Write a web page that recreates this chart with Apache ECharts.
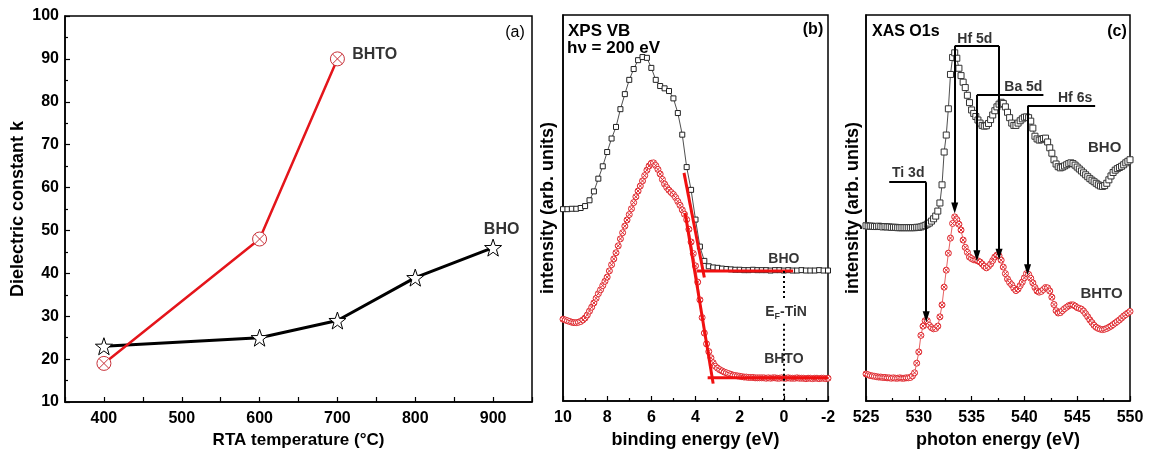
<!DOCTYPE html>
<html>
<head>
<meta charset="utf-8">
<script src="https://cdn.jsdelivr.net/npm/echarts@6/dist/echarts.min.js"></script>
<style>
  html, body { margin: 0; padding: 0; background: #fff; }
  #chart { width: 1152px; height: 450px; }
</style>
</head>
<body>
<div id="chart"></div>
<script>
// ---------- (a) dielectric constant vs. RTA temperature ----------
const tempBHTO = [400, 600, 700];
const kBHTO = [19, 48, 90];
const tempBHO = [400, 600, 700, 800, 900];
const kBHO = [23, 25, 29, 39, 46];

// ---------- (b) XPS valence band, binding energy (eV) ----------
const beCoarse = [10.0, 9.8, 9.6, 9.4, 9.2, 9.0, 8.8, 8.6, 8.4, 8.2,
  8.0, 7.8, 7.6, 7.4, 7.2, 7.0, 6.8, 6.6, 6.4, 6.2,
  6.0, 5.8, 5.6, 5.4, 5.2, 5.0, 4.8, 4.6, 4.4, 4.2,
  4.0, 3.8, 3.6, 3.4, 3.2, 3.0, 2.8, 2.6, 2.4, 2.2,
  2.0, 1.8, 1.6, 1.4, 1.2, 1.0, 0.8, 0.6, 0.4, 0.2,
  0.0, -0.2, -0.4, -0.6, -0.8, -1.0, -1.2, -1.4, -1.6, -1.8,
  -2.0];
const vbBHO = [49.7, 49.7, 49.8, 49.8, 50.0, 50.5, 52.0, 54.3, 57.6, 60.8,
  64.5, 68.0, 71.0, 75.6, 79.5, 83.2, 86.0, 88.3, 89.1, 88.9,
  86.3, 83.2, 81.6, 81.0, 80.3, 78.4, 74.6, 69.0, 60.6, 54.7,
  47.0, 40.0, 36.3, 34.9, 34.6, 34.5, 34.3, 34.2, 34.1, 34.0,
  34.0, 33.9, 33.9, 34.0, 33.9, 33.9, 33.9, 33.8, 33.9, 33.9,
  33.8, 33.9, 33.8, 33.8, 33.9, 33.8, 33.8, 33.8, 33.9, 33.8,
  33.8];
const beFine = [10.0, 9.9, 9.8, 9.7, 9.6, 9.5, 9.4, 9.3, 9.2, 9.1,
  9.0, 8.9, 8.8, 8.7, 8.6, 8.5, 8.4, 8.3, 8.2, 8.1,
  8.0, 7.9, 7.8, 7.7, 7.6, 7.5, 7.4, 7.3, 7.2, 7.1,
  7.0, 6.9, 6.8, 6.7, 6.6, 6.5, 6.4, 6.3, 6.2, 6.1,
  6.0, 5.9, 5.8, 5.7, 5.6, 5.5, 5.4, 5.3, 5.2, 5.1,
  5.0, 4.9, 4.8, 4.7, 4.6, 4.5, 4.4, 4.3, 4.2, 4.1,
  4.0, 3.9, 3.8, 3.7, 3.6, 3.5, 3.4, 3.3, 3.2, 3.1,
  3.0, 2.9, 2.8, 2.7, 2.6, 2.5, 2.4, 2.3, 2.2, 2.1,
  2.0, 1.9, 1.8, 1.7, 1.6, 1.5, 1.4, 1.3, 1.2, 1.1,
  1.0, 0.9, 0.8, 0.7, 0.6, 0.5, 0.4, 0.3, 0.2, 0.1,
  0.0, -0.1, -0.2, -0.3, -0.4, -0.5, -0.6, -0.7, -0.8, -0.9,
  -1.0, -1.1, -1.2, -1.3, -1.4, -1.5, -1.6, -1.7, -1.8, -1.9,
  -2.0];
const vbBHTO = [21.2, 21.0, 20.8, 20.6, 20.4, 20.3, 20.3, 20.4, 20.6, 21.0,
  21.5, 22.3, 23.3, 24.3, 25.4, 26.6, 27.8, 28.8, 29.9, 31.0,
  32.1, 33.7, 35.3, 36.8, 38.4, 40.2, 42.0, 43.6, 45.3, 46.9,
  48.3, 49.8, 51.4, 52.9, 54.4, 55.7, 57.0, 58.4, 59.8, 60.9,
  61.6, 61.7, 61.0, 60.0, 58.8, 57.4, 56.2, 55.3, 54.6, 54.0,
  53.5, 52.7, 51.7, 50.7, 49.5, 48.4, 47.0, 44.5, 41.2, 38.2,
  35.0, 30.8, 26.2, 21.6, 17.6, 14.8, 12.8, 11.2, 9.9, 9.0,
  8.5, 8.1, 7.8, 7.5, 7.3, 7.1, 6.9, 6.7, 6.6, 6.5,
  6.4, 6.3, 6.2, 6.2, 6.1, 6.1, 6.1, 6.0, 6.0, 6.0,
  6.0, 6.0, 5.9, 6.0, 5.9, 6.0, 6.0, 5.9, 5.9, 6.0,
  5.9, 5.9, 6.0, 5.9, 5.9, 5.9, 6.0, 5.9, 5.9, 5.9,
  5.8, 5.9, 5.9, 5.8, 5.9, 5.9, 5.8, 5.9, 5.9, 5.8,
  5.9];
// linear band-edge extrapolations (slope and baseline), [eV, intensity]
const edgeBHO = [[4.52, 59.1], [3.6, 32.0]];
const baseBHO = [[3.93, 33.7], [-0.42, 33.7]];
const edgeBHTO = [[4.47, 48.7], [3.2, 4.5]];
const baseBHTO = [[3.45, 6.0], [-2.0, 6.0]];
// Fermi level of TiN at 0 eV, drawn in two pieces around its label
const fermiSegments = [[[0, 33.7], [0, 26.4]], [[0, 20.0], [0, 0]]];

// ---------- (c) XAS O 1s, photon energy (eV) ----------
const photonE = [525.0, 525.2, 525.4, 525.6, 525.8, 526.0, 526.2, 526.4, 526.6, 526.8,
  527.0, 527.2, 527.4, 527.6, 527.8, 528.0, 528.2, 528.4, 528.6, 528.8,
  529.0, 529.2, 529.4, 529.6, 529.8, 530.0, 530.2, 530.4, 530.6, 530.8,
  531.0, 531.2, 531.4, 531.6, 531.8, 532.0, 532.2, 532.4, 532.6, 532.8,
  533.0, 533.2, 533.4, 533.6, 533.8, 534.0, 534.2, 534.4, 534.6, 534.8,
  535.0, 535.2, 535.4, 535.6, 535.8, 536.0, 536.2, 536.4, 536.6, 536.8,
  537.0, 537.2, 537.4, 537.6, 537.8, 538.0, 538.2, 538.4, 538.6, 538.8,
  539.0, 539.2, 539.4, 539.6, 539.8, 540.0, 540.2, 540.4, 540.6, 540.8,
  541.0, 541.2, 541.4, 541.6, 541.8, 542.0, 542.2, 542.4, 542.6, 542.8,
  543.0, 543.2, 543.4, 543.6, 543.8, 544.0, 544.2, 544.4, 544.6, 544.8,
  545.0, 545.2, 545.4, 545.6, 545.8, 546.0, 546.2, 546.4, 546.6, 546.8,
  547.0, 547.2, 547.4, 547.6, 547.8, 548.0, 548.2, 548.4, 548.6, 548.8,
  549.0, 549.2, 549.4, 549.6, 549.8, 550.0];
const xasBHO = [45.4, 45.3, 45.3, 45.3, 45.2, 45.2, 45.3, 45.2, 45.1, 45.2,
  45.1, 45.1, 45.0, 45.0, 45.0, 44.9, 44.9, 44.9, 44.9, 44.9,
  44.9, 44.9, 44.9, 44.9, 45.0, 45.0, 45.1, 45.3, 45.5, 45.8,
  46.1, 46.6, 47.2, 47.9, 49.2, 51.3, 56.0, 64.5, 68.9, 75.7,
  84.6, 89.0, 90.2, 88.8, 86.2, 84.3, 82.6, 81.2, 79.2, 77.3,
  75.4, 74.5, 73.7, 72.8, 72.0, 71.4, 71.2, 71.3, 71.9, 72.9,
  74.1, 75.2, 76.2, 76.9, 77.4, 77.1, 76.2, 74.8, 73.4, 72.0,
  71.4, 71.4, 72.0, 72.6, 73.1, 73.5, 73.6, 73.4, 72.5, 70.7,
  68.6, 67.9, 67.6, 67.7, 68.0, 68.1, 67.1, 65.6, 64.2, 62.5,
  61.4, 60.7, 60.4, 60.6, 60.9, 61.2, 61.5, 61.7, 61.5, 61.1,
  60.6, 60.1, 59.6, 59.1, 58.6, 58.1, 57.6, 57.2, 56.8, 56.4,
  56.0, 55.7, 55.6, 55.8, 56.4, 57.3, 58.3, 59.2, 59.8, 60.2,
  60.5, 60.8, 61.2, 61.7, 62.1, 62.5];
const xasBHTO = [7.0, 6.8, 6.6, 6.5, 6.4, 6.3, 6.2, 6.2, 6.1, 6.1,
  6.0, 6.0, 5.9, 6.0, 5.9, 5.9, 6.0, 5.9, 5.9, 6.0,
  6.0, 6.1, 6.5, 7.3, 9.8, 12.7, 17.0, 19.4, 20.8, 20.8,
  19.6, 19.0, 18.7, 18.8, 19.4, 21.8, 24.9, 29.5, 33.9, 38.3,
  42.2, 46.0, 47.7, 47.0, 45.8, 44.3, 41.7, 39.8, 38.5, 37.3,
  36.9, 36.6, 36.5, 36.3, 36.0, 35.5, 34.9, 34.5, 34.9, 35.5,
  36.4, 37.3, 37.8, 37.6, 36.5, 34.7, 33.0, 31.6, 30.7, 30.1,
  29.2, 28.6, 29.0, 29.9, 30.8, 31.9, 33.0, 32.8, 31.8, 30.6,
  29.4, 28.5, 28.2, 28.4, 28.9, 29.4, 29.3, 28.5, 26.9, 25.0,
  23.4, 22.8, 22.9, 23.4, 23.9, 24.3, 24.7, 24.9, 24.9, 24.6,
  24.2, 24.0, 23.8, 23.3, 22.6, 21.8, 21.0, 20.3, 19.6, 19.1,
  18.8, 18.6, 18.5, 18.6, 18.8, 19.1, 19.4, 19.8, 20.2, 20.6,
  21.0, 21.5, 22.0, 22.4, 22.8, 23.2];
// peak assignments: bracket level, bracket span, arrow energies and arrow tips
const peakNames = ['Ti 3d', 'Hf 5d', 'Ba 5d', 'Hf 6s'];
const peakLevel = [56.7, 92.0, 79.3, 76.4];
const peakSpan = [[527.2, 530.7], [533.4, 537.6], [535.5, 541.8], [540.3, 546.7]];
const peakArrows = [[[530.7, 21.8]], [[533.4, 50.0], [537.6, 38.0]], [[535.5, 37.6]], [[540.3, 34.0]]];

// ---------- drawing ----------
const FF = '"Liberation Sans", Arial, Helvetica, sans-serif';
const RED = '#e4151b';
const pairs = (xs, ys) => xs.map((x, i) => [x, ys[i]]);
const STAR = 'path://M0,-10L2.35,-3.24L9.51,-3.09L3.8,1.24L5.88,8.09L0,4L-5.88,8.09L-3.8,1.24L-9.51,-3.09L-2.35,-3.24Z';
const CROSS_CIRCLE = 'path://M10,0A10,10 0 1 1 -10,0A10,10 0 1 1 10,0ZM-7.07,-7.07L7.07,7.07M7.07,-7.07L-7.07,7.07';

const txt = (size, weight) => ({ color: '#000', fontFamily: FF, fontSize: size, fontWeight: weight || 'bold' });
const AXIS_LINE = { show: true, onZero: false, lineStyle: { color: '#000', width: 1.5 } };

function xAxisBase(grid, min, max, interval, name, extra) {
  return Object.assign({
    gridIndex: grid, type: 'value', min, max, interval,
    name, nameLocation: 'middle', nameGap: 26,
    nameTextStyle: txt(18),
    axisLine: AXIS_LINE,
    axisTick: { show: true, inside: true, length: 5, lineStyle: { color: '#000', width: 1.2 } },
    minorTick: { show: true, splitNumber: 2, length: 3, lineStyle: { color: '#000', width: 1.2 } },
    axisLabel: Object.assign({ margin: 9 }, txt(16)),
    splitLine: { show: false }
  }, extra || {});
}
function yAxisArb(grid, gap) {
  return {
    gridIndex: grid, type: 'value', min: 0, max: 100,
    name: 'intensity (arb. units)', nameLocation: 'middle', nameRotate: 90, nameGap: gap,
    nameTextStyle: txt(18),
    axisLine: AXIS_LINE,
    axisTick: { show: false }, axisLabel: { show: false }, splitLine: { show: false }
  };
}
function noteSeries(xi, items, markLine) {
  return {
    type: 'scatter', xAxisIndex: xi, yAxisIndex: xi, symbolSize: 0, silent: true, z: 5,
    data: items.map(it => ({ value: [it.x, it.y], label: it.label })),
    label: Object.assign({ show: true, position: 'inside', formatter: p => p.data.label.text }, txt(14)),
    markLine: markLine
  };
}
const note = (x, y, text, size) => ({ x, y, label: Object.assign({ text }, txt(size || 14)) });

const bracketLines = [];
peakNames.forEach((n, i) => {
  bracketLines.push([{ coord: [peakSpan[i][0], peakLevel[i]], symbol: 'none' },
                     { coord: [peakSpan[i][1], peakLevel[i]], symbol: 'none' }]);
  peakArrows[i].forEach(tip => {
    bracketLines.push([{ coord: [tip[0], peakLevel[i]], symbol: 'none' },
                       { coord: tip, symbol: 'triangle', symbolSize: [7, 11] }]);
  });
});

const option = {
  animation: false,
  backgroundColor: '#fff',
  grid: [
    { left: 65, top: 16, width: 467, height: 386, show: true, borderColor: '#000', borderWidth: 1.5, outerBoundsMode: 'none' },
    { left: 563, top: 15, width: 265, height: 386, show: true, borderColor: '#000', borderWidth: 1.5, outerBoundsMode: 'none' },
    { left: 866, top: 15, width: 264, height: 386, show: true, borderColor: '#000', borderWidth: 1.5, outerBoundsMode: 'none' }
  ],
  xAxis: [
    xAxisBase(0, 350, 950, 50, 'RTA temperature (°C)', {
      nameTextStyle: txt(17),
      minorTick: { show: false },
      axisLabel: Object.assign({ margin: 9, formatter: v => (v % 100 === 0 ? String(v) : '') }, txt(16))
    }),
    xAxisBase(1, -2, 10, 2, 'binding energy (eV)', { inverse: true }),
    xAxisBase(2, 525, 550, 5, 'photon energy (eV)')
  ],
  yAxis: [
    {
      gridIndex: 0, type: 'value', min: 10, max: 100, interval: 10,
      name: 'Dielectric constant k', nameLocation: 'middle', nameRotate: 90, nameGap: 38,
      nameTextStyle: txt(18),
      axisLine: AXIS_LINE,
      axisTick: { show: true, inside: true, length: 5, lineStyle: { color: '#000', width: 1.2 } },
      minorTick: { show: true, splitNumber: 2, length: 3, lineStyle: { color: '#000', width: 1.2 } },
      axisLabel: Object.assign({ margin: 6 }, txt(16)),
      splitLine: { show: false }
    },
    yAxisArb(1, 6),
    yAxisArb(2, 4)
  ],
  series: [
    // (a)
    {
      type: 'line', xAxisIndex: 0, yAxisIndex: 0, data: pairs(tempBHO, kBHO),
      lineStyle: { color: '#000', width: 3 }, symbol: STAR, symbolSize: 17,
      itemStyle: { color: '#fff', borderColor: '#000', borderWidth: 1 }
    },
    {
      type: 'line', xAxisIndex: 0, yAxisIndex: 0, data: pairs(tempBHTO, kBHTO),
      lineStyle: { color: RED, width: 2.5 }, symbol: CROSS_CIRCLE, symbolSize: 14,
      itemStyle: { color: '#fff', borderColor: '#c8323a', borderWidth: 1 }
    },
    noteSeries(0, [note(748, 90.9, 'BHTO', 16), note(911, 50.3, 'BHO', 16)]),
    // (b)
    {
      type: 'line', xAxisIndex: 1, yAxisIndex: 1, data: pairs(beCoarse, vbBHO),
      lineStyle: { color: '#222', width: 0.8 }, symbol: 'rect', symbolSize: 5,
      itemStyle: { color: '#fff', borderColor: '#222', borderWidth: 1 }
    },
    {
      type: 'line', xAxisIndex: 1, yAxisIndex: 1, data: pairs(beFine, vbBHTO),
      lineStyle: { color: '#e03a3a', width: 0.8 }, symbol: CROSS_CIRCLE, symbolSize: 6,
      itemStyle: { color: '#fff', borderColor: '#e0282e', borderWidth: 1 }
    },
    ...[edgeBHO, baseBHO, edgeBHTO, baseBHTO].map(seg => ({
      type: 'line', xAxisIndex: 1, yAxisIndex: 1, data: seg, symbol: 'none', z: 4,
      lineStyle: { color: '#f01010', width: 3 }
    })),
    noteSeries(1, [
      note(0.0, 36.8, 'BHO'),
      { x: -0.1, y: 23.0, label: { text: '{e|E}{f|F}{e|-TiN}', rich: { e: txt(14), f: Object.assign({ padding: [9, 0, 0, 0] }, txt(9)) } } },
      note(0.0, 10.9, 'BHTO')
    ], {
      silent: true, symbol: 'none', label: { show: false },
      lineStyle: { color: '#000', width: 2, type: [2, 3] },
      data: fermiSegments.map(s => [{ coord: s[0] }, { coord: s[1] }])
    }),
    // (c)
    {
      type: 'line', xAxisIndex: 2, yAxisIndex: 2, data: pairs(photonE, xasBHO),
      lineStyle: { color: '#222', width: 0.8 }, symbol: 'rect', symbolSize: 6,
      itemStyle: { color: '#fff', borderColor: '#333', borderWidth: 1 }
    },
    {
      type: 'line', xAxisIndex: 2, yAxisIndex: 2, data: pairs(photonE, xasBHTO),
      lineStyle: { color: '#e03a3a', width: 0.8 }, symbol: CROSS_CIRCLE, symbolSize: 6,
      itemStyle: { color: '#fff', borderColor: '#e0282e', borderWidth: 1 }
    },
    noteSeries(2, [
      note(529.0, 59.1, 'Ti 3d'), note(535.3, 93.8, 'Hf 5d'),
      note(539.9, 81.3, 'Ba 5d'), note(544.8, 78.5, 'Hf 6s'),
      note(547.6, 65.5, 'BHO', 15), note(547.3, 27.7, 'BHTO', 15)
    ], {
      silent: true, label: { show: false },
      lineStyle: { color: '#000', width: 2, type: 'solid' },
      data: bracketLines
    })
  ],
  graphic: [
    { type: 'text', x: 515, y: 33, style: { text: '(a)', font: '16px ' + FF, fill: '#000', align: 'center', verticalAlign: 'middle' } },
    { type: 'text', x: 813, y: 30, style: { text: '(b)', font: 'bold 16px ' + FF, fill: '#000', align: 'center', verticalAlign: 'middle' } },
    { type: 'text', x: 1117, y: 32, style: { text: '(c)', font: 'bold 16px ' + FF, fill: '#000', align: 'center', verticalAlign: 'middle' } },
    { type: 'text', x: 568, y: 31, style: { text: 'XPS VB', font: 'bold 17px ' + FF, fill: '#000', align: 'left', verticalAlign: 'middle' } },
    { type: 'text', x: 567, y: 48, style: { text: 'hν = 200 eV', font: 'bold 17px ' + FF, fill: '#000', align: 'left', verticalAlign: 'middle' } },
    { type: 'text', x: 872, y: 32, style: { text: 'XAS O1s', font: 'bold 16px ' + FF, fill: '#000', align: 'left', verticalAlign: 'middle' } }
  ]
};

const chart = echarts.init(document.getElementById('chart'), null, { renderer: 'canvas' });
chart.setOption(option);
</script>
</body>
</html>
